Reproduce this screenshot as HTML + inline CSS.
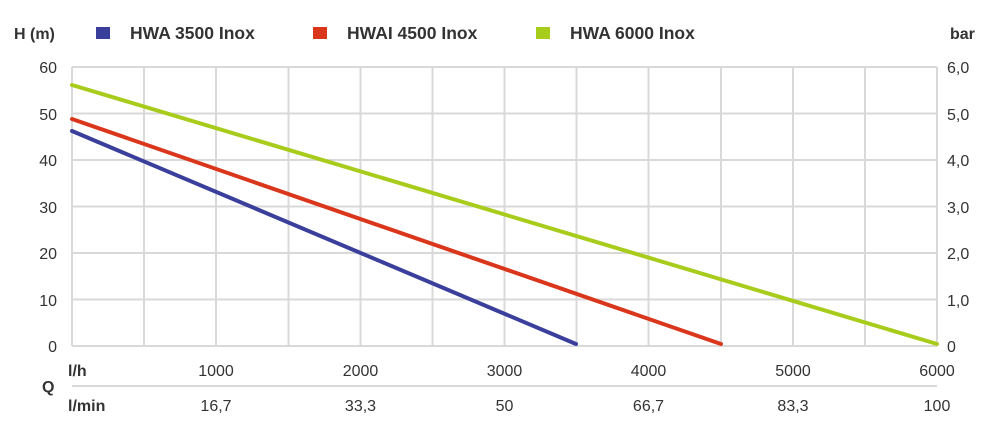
<!DOCTYPE html>
<html><head><style>
body{margin:0;background:#fff;}
svg{display:block;font-family:"Liberation Sans",sans-serif;}
</style></head><body>
<svg width="990" height="429" viewBox="0 0 990 429">
<g stroke="#d9d9d9" stroke-width="2" fill="none">
<line x1="72" y1="67" x2="937" y2="67"/><line x1="72" y1="113.5" x2="937" y2="113.5"/><line x1="72" y1="160" x2="937" y2="160"/><line x1="72" y1="206.5" x2="937" y2="206.5"/><line x1="72" y1="253" x2="937" y2="253"/><line x1="72" y1="299.5" x2="937" y2="299.5"/><line x1="72" y1="346" x2="937" y2="346"/>
<line x1="72" y1="67" x2="72" y2="346"/><line x1="144" y1="67" x2="144" y2="346"/><line x1="216" y1="67" x2="216" y2="346"/><line x1="288.5" y1="67" x2="288.5" y2="346"/><line x1="360.5" y1="67" x2="360.5" y2="346"/><line x1="432.5" y1="67" x2="432.5" y2="346"/><line x1="504.5" y1="67" x2="504.5" y2="346"/><line x1="576.5" y1="67" x2="576.5" y2="346"/><line x1="648.5" y1="67" x2="648.5" y2="346"/><line x1="721" y1="67" x2="721" y2="346"/><line x1="793" y1="67" x2="793" y2="346"/><line x1="865" y1="67" x2="865" y2="346"/><line x1="937" y1="67" x2="937" y2="346"/>
<line x1="72" y1="386" x2="937" y2="386"/>
</g>
<g stroke-width="4" stroke-linecap="round">
<line x1="72" y1="85" x2="937" y2="344" stroke="#a8cc1c"/>
<line x1="72" y1="119" x2="721" y2="344" stroke="#d9361c"/>
<line x1="72" y1="131" x2="576" y2="344" stroke="#3b3f9c"/>
</g>
<g font-size="16" fill="#333" text-anchor="end">
<text x="57" y="73">60</text><text x="57" y="120">50</text><text x="57" y="166">40</text><text x="57" y="213">30</text><text x="57" y="259">20</text><text x="57" y="306">10</text><text x="57" y="352">0</text>
</g>
<g font-size="16" fill="#333" text-anchor="start">
<text x="947" y="73">6,0</text><text x="947" y="120">5,0</text><text x="947" y="166">4,0</text><text x="947" y="213">3,0</text><text x="947" y="259">2,0</text><text x="947" y="306">1,0</text><text x="947" y="352">0</text>
</g>
<g font-size="16" fill="#333" text-anchor="middle">
<text x="216" y="376">1000</text><text x="360.5" y="376">2000</text><text x="504.5" y="376">3000</text><text x="648.5" y="376">4000</text><text x="793" y="376">5000</text><text x="937" y="376">6000</text>
<text x="216" y="411">16,7</text><text x="360.5" y="411">33,3</text><text x="504.5" y="411">50</text><text x="648.5" y="411">66,7</text><text x="793" y="411">83,3</text><text x="937" y="411">100</text>
</g>
<g font-size="16" font-weight="bold" fill="#333">
<text x="68" y="376">l/h</text><text x="68" y="411">l/min</text><text x="42" y="392">Q</text>
<text x="14" y="39">H (m)</text><text x="950" y="39">bar</text>
</g>
<g font-size="17.5" font-weight="bold" fill="#333">
<text x="130" y="39">HWA 3500 Inox</text>
<text x="347" y="39">HWAI 4500 Inox</text>
<text x="570" y="39">HWA 6000 Inox</text>
</g>
<rect x="96" y="27" width="14" height="12" fill="#3b3f9c"/>
<rect x="313" y="27" width="14" height="12" fill="#d9361c"/>
<rect x="536" y="27" width="14" height="12" fill="#a8cc1c"/>
</svg>
</body></html>
